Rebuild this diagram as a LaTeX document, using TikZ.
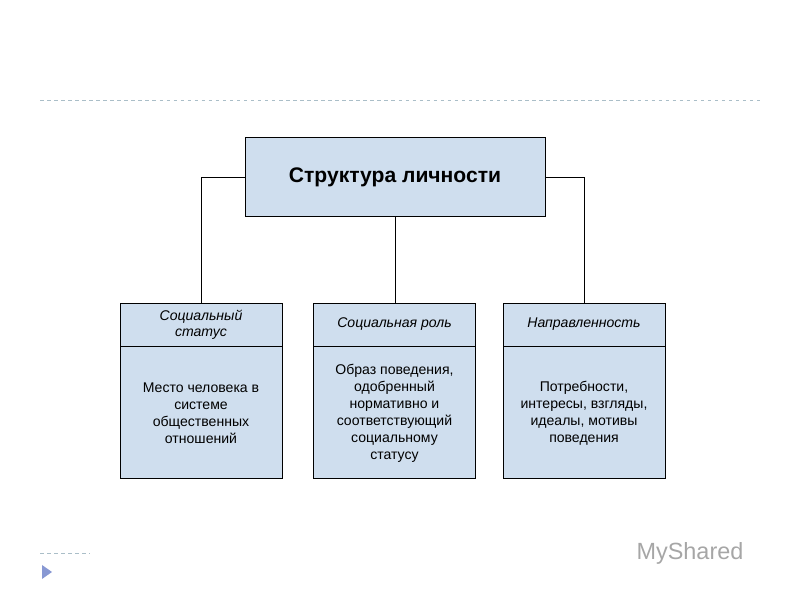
\documentclass[tikz,border=0pt]{standalone}
\usepackage{fontspec}
\setmainfont{Liberation Sans}
\usetikzlibrary{positioning,calc}
\definecolor{boxblue}{RGB}{207,222,238}
\definecolor{rulegray}{RGB}{170,190,200}
\begin{document}
\begin{tikzpicture}[x=0.03cm, y=-0.03cm, align=center, every path/.style={thick},
  head/.style={draw, fill=boxblue, minimum width=162*0.03cm, minimum height=43*0.03cm, font=\itshape\fontsize{12}{14}\selectfont},
  body/.style={draw, fill=boxblue, minimum width=162*0.03cm, minimum height=132*0.03cm, font=\fontsize{12}{14.5}\selectfont}]
\useasboundingbox (0,0) rectangle (800,600);

\draw[rulegray, dashed, thin] (40,100) -- (760,100);
\draw[rulegray, dashed, thin] (40,553) -- (90,553);
\fill[rulegray!80!blue] (42,565) -- (52,572) -- (42,579) -- cycle;
\node[text=gray!70, font=\fontsize{20}{20}\selectfont] (mark) at (690,553) {MyShared};

\node (top) [draw, fill=boxblue, minimum width=300*0.03cm, minimum height=79*0.03cm, font=\bfseries\fontsize{18}{20}\selectfont] at (395,177) {Структура личности};

% -------------------------------

\node (head1) [head] at (201,324.5) {Социальный\\статус};
\node (body1) [body, below=0pt of head1] {Место человека в\\системе\\общественных\\отношений};

\node (head2) [head] at (394.5,324.5) {Социальная роль};
\node (body2) [body, below=0pt of head2] {Образ поведения,\\одобренный\\нормативно и\\соответствующий\\социальному\\статусу};

\node (head3) [head] at (584,324.5) {Направленность};
\node (body3) [body, below=0pt of head3] {Потребности,\\интересы, взгляды,\\идеалы, мотивы\\поведения};

\draw (top.west) -| (head1.north);
\draw (top.south) -- (top.south |- head2.north);
\draw (top.east) -| (head3.north);
\end{tikzpicture}
\end{document}
